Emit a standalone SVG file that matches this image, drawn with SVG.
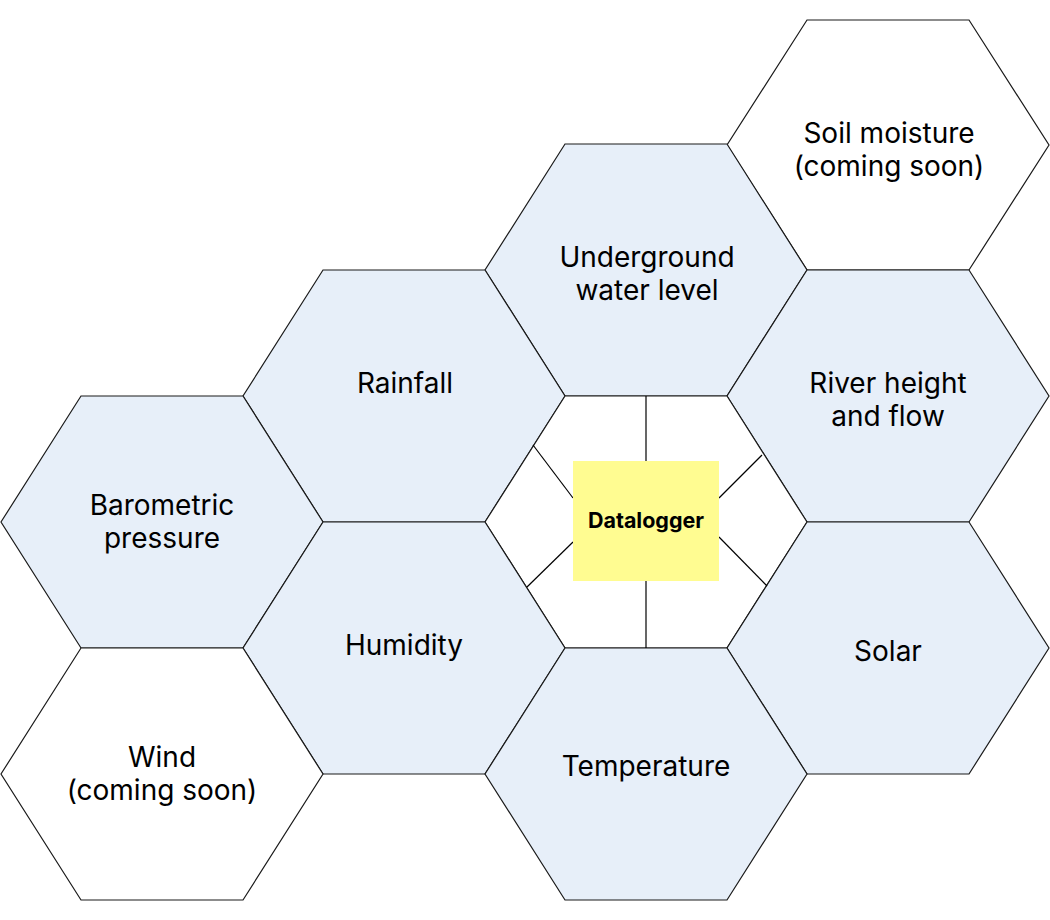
<svg xmlns="http://www.w3.org/2000/svg" xmlns:xlink="http://www.w3.org/1999/xlink" width="1050" height="920" viewBox="0 0 1050 920">
<style>
.hex{stroke:#1a1a1a;stroke-width:1.2;}
.blue{fill:#E7EFF9;}
.white{fill:#FFFFFF;}
.lbl{font-family:Inter,"Noto Sans","Liberation Sans",sans-serif;font-size:28px;fill:#000;text-anchor:middle;}
.dl{font-family:Inter,"Noto Sans","Liberation Sans",sans-serif;font-size:21.5px;font-weight:700;fill:#000;text-anchor:middle;}
.conn{stroke:#000;stroke-width:1.2;fill:none;}
</style>
<defs>
<polygon id="hexshape" points="-81,-126 81,-126 161,0 81,126 -81,126 -161,0"/>
</defs>
<rect width="1050" height="920" fill="#FFFFFF"/>
<g id="soil-moisture">
<polygon class="hex white" points="807,20 969,20 1049,145 969,270 807,270 727,145"/>
<text class="lbl" x="889" y="143">Soil moisture</text>
<text class="lbl" x="889" y="176">(coming soon)</text>
</g>
<g id="underground-water-level">
<use xlink:href="#hexshape" class="hex blue" transform="translate(646,270)"/>
<text class="lbl" x="647" y="267">Underground</text>
<text class="lbl" x="647" y="300">water level</text>
</g>
<g id="rainfall">
<use xlink:href="#hexshape" class="hex blue" transform="translate(404,396)"/>
<text class="lbl" x="405" y="393">Rainfall</text>
</g>
<g id="river-height-and-flow">
<use xlink:href="#hexshape" class="hex blue" transform="translate(888,396)"/>
<text class="lbl" x="888" y="393">River height</text>
<text class="lbl" x="888" y="426">and flow</text>
</g>
<g id="barometric-pressure">
<use xlink:href="#hexshape" class="hex blue" transform="translate(162,522)"/>
<text class="lbl" x="162" y="515">Barometric</text>
<text class="lbl" x="162" y="548">pressure</text>
</g>
<g id="center">
<use xlink:href="#hexshape" class="hex white" transform="translate(646,522)"/>
</g>
<g id="humidity">
<use xlink:href="#hexshape" class="hex blue" transform="translate(404,648)"/>
<text class="lbl" x="404" y="655">Humidity</text>
</g>
<g id="solar">
<use xlink:href="#hexshape" class="hex blue" transform="translate(888,648)"/>
<text class="lbl" x="888" y="661">Solar</text>
</g>
<g id="wind">
<use xlink:href="#hexshape" class="hex white" transform="translate(162,774)"/>
<text class="lbl" x="162" y="767">Wind</text>
<text class="lbl" x="162" y="800">(coming soon)</text>
</g>
<g id="temperature">
<use xlink:href="#hexshape" class="hex blue" transform="translate(646,774)"/>
<text class="lbl" x="646" y="776">Temperature</text>
</g>
<g id="connectors">
<line class="conn" x1="646" y1="396" x2="646" y2="461"/>
<line class="conn" x1="646" y1="581" x2="646" y2="648"/>
<line class="conn" x1="533" y1="445" x2="573" y2="498"/>
<line class="conn" x1="527" y1="587" x2="573" y2="542"/>
<line class="conn" x1="762" y1="455" x2="719" y2="498"/>
<line class="conn" x1="767" y1="586" x2="719" y2="537"/>
</g>
<g id="datalogger">
<rect x="573" y="461" width="146" height="120" fill="#FFFC91"/>
<text class="dl" x="646" y="528">Datalogger</text>
</g>
</svg>
